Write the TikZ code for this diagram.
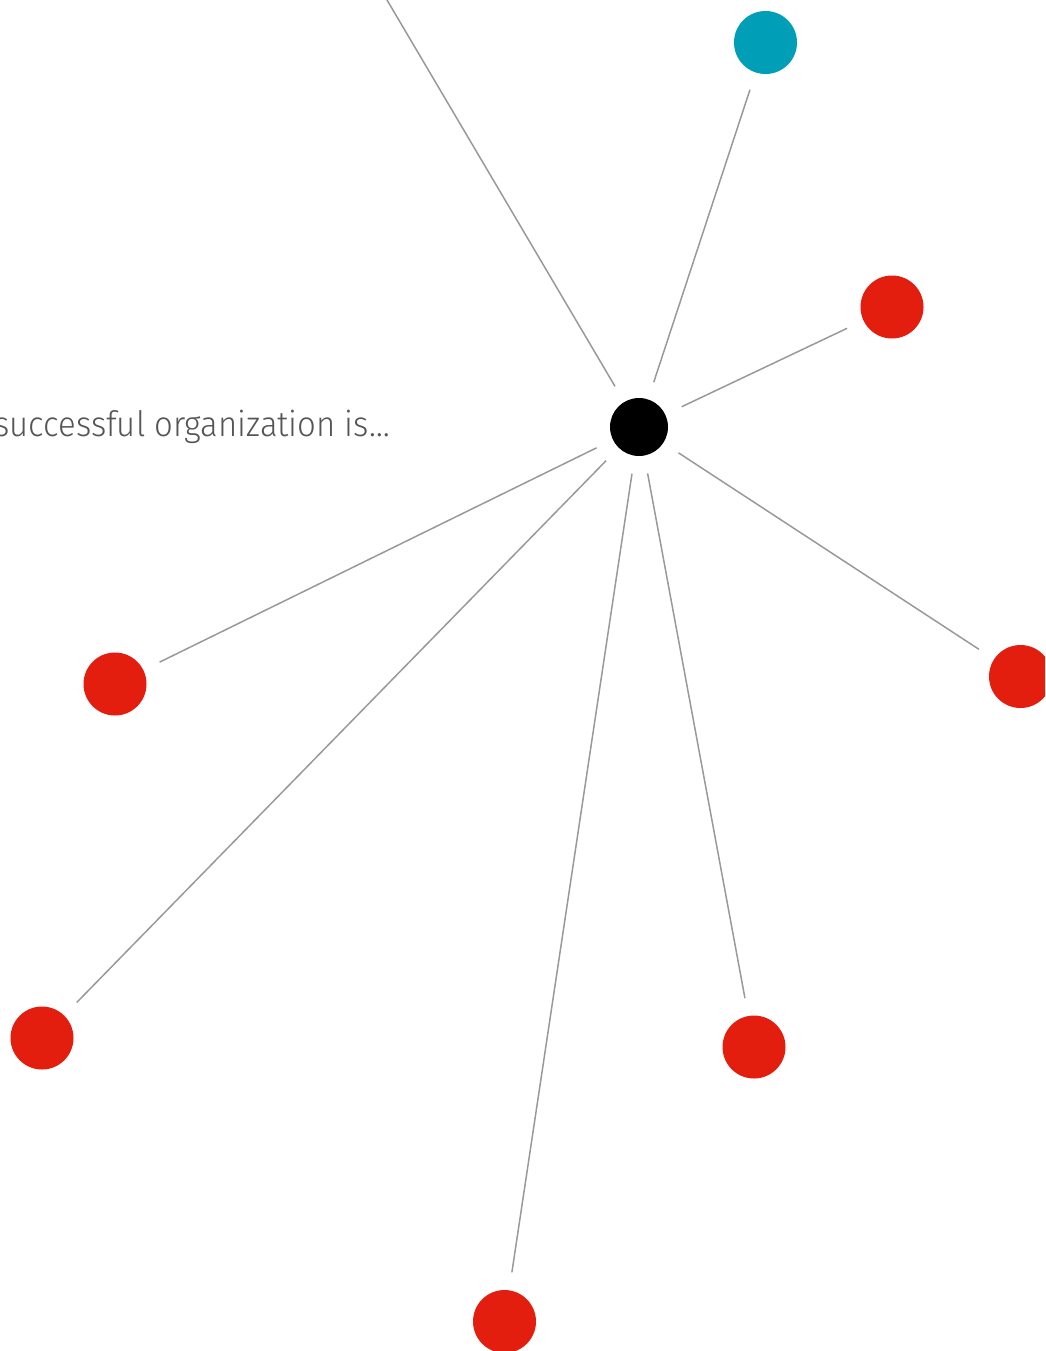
\documentclass[tikz,border=0pt]{standalone}
\usepackage{xcolor}
\usepackage{fontspec}
\setmainfont{Fira Sans}[UprightFont=* Light]

\definecolor{dotred}{RGB}{228,30,14}
\definecolor{dotteal}{RGB}{0,159,183}
\definecolor{linkgray}{RGB}{153,153,153}
\definecolor{textgray}{RGB}{85,85,85}

\begin{document}
\begin{tikzpicture}[x=1pt,y=-1pt,
  dot/.style={circle, fill=dotred, inner sep=0pt, minimum size=63pt},
  link/.style={draw=linkgray, line width=1.5pt, shorten <=18pt, shorten >=18pt}]
\useasboundingbox (0,0) rectangle (1045,1351);
\clip (0,0) rectangle (1045,1351);

%Hub
\node [circle, fill=black, inner sep=0pt, minimum size=58pt] (hub) at (639,427) {};
%Outer dots
\node [dot, fill=dotteal] (teal) at (765.5,42.5) {};
\node [dot] (upright) at (892,307) {};
\node [dot] (right) at (1020.5,676.5) {};
\node [dot] (downright) at (754,1047) {};
\node [dot] (down) at (504.5,1321.5) {};
\node [dot] (downleft) at (42,1038) {};
\node [dot] (left) at (115,684) {};
\coordinate (offtop) at (364,-39);

%Links
\draw [link] (hub) -- (offtop);
\draw [link] (hub) -- (teal);
\draw [link] (hub) -- (upright);
\draw [link] (hub) -- (right);
\draw [link] (hub) -- (downright);
\draw [link] (hub) -- (down);
\draw [link] (hub) -- (downleft);
\draw [link] (hub) -- (left);

% Text Node
\node [anchor=base east, inner sep=0pt, text=textgray, font=\fontsize{35}{40}\selectfont] (caption) at (390,436) {\scalebox{0.94}[1]{successful organization is\dots}};
\end{tikzpicture}
\end{document}
